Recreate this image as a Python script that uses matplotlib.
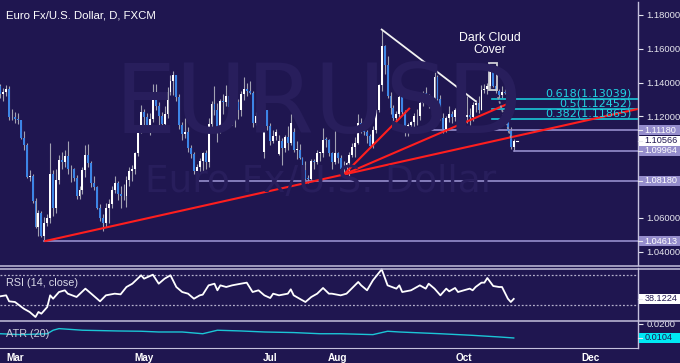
import numpy as np
import pandas as pd
import matplotlib
matplotlib.use('Agg')
import matplotlib.pyplot as plt
from matplotlib.patches import Rectangle
from matplotlib.lines import Line2D
from matplotlib.transforms import blended_transform_factory

plt.rcParams['font.family'] = ['Liberation Sans', 'DejaVu Sans']

# velas diarias EUR/USD, 23-feb a 26-oct 2015
opens = [1.1380, 1.1330, 1.1344, 1.1365, 1.1197,
         1.1195, 1.1184, 1.1176, 1.1075, 1.1028, 1.0842, 1.0850, 1.0699, 1.0548, 1.0631,
         1.0495, 1.0569, 1.0596, 1.0860, 1.0658, 1.0821, 1.0941, 1.0929, 1.0966, 1.0886,
         1.0888, 1.0835, 1.0731, 1.0762, 1.0885, 1.0970, 1.0923, 1.0807, 1.0780, 1.0660,
         1.0600, 1.0567, 1.0660, 1.0684, 1.0765, 1.0806, 1.0739, 1.0729, 1.0727, 1.0824,
         1.0874, 1.0886, 1.0985, 1.1127,
         1.1224, 1.1198, 1.1146, 1.1184, 1.1345, 1.1263, 1.1200, 1.1157, 1.1215, 1.1345,
         1.1409, 1.1446, 1.1317, 1.1150, 1.1094, 1.1110, 1.1011, 1.0975, 1.0874, 1.0899, 1.0936,
         1.0985, 1.0929, 1.1157, 1.1276, 1.1240, 1.1114, 1.1292, 1.1285, 1.1318, 1.1257,
         1.1262, 1.1283, 1.1240, 1.1335, 1.1362, 1.1350, 1.1340, 1.1163, 1.1204, 1.1207,
         1.0990, 1.1235,
         1.1145, 1.1055, 1.1085, 1.0975, 1.1055, 1.1012, 1.1081, 1.1040, 1.1110, 1.1003,
         1.1003, 1.0955, 1.0880, 1.0832, 1.0830, 1.0937, 1.0931, 1.0983, 1.0983, 1.1063,
         1.1060, 1.0984, 1.0931,
         1.0985, 1.0952, 1.0886, 1.0902, 1.0926, 1.0969, 1.1017, 1.1045, 1.1163, 1.1152,
         1.1107, 1.1083, 1.1026, 1.1118, 1.1240, 1.1386, 1.1616, 1.1507, 1.1321, 1.1247, 1.1188,
         1.1213, 1.1316, 1.1226, 1.1117, 1.1150, 1.1168, 1.1201, 1.1202, 1.1281, 1.1338,
         1.1312, 1.1264, 1.1287, 1.1435, 1.1300, 1.1192, 1.1128, 1.1189, 1.1217, 1.1197,
         1.1240, 1.1253,
         1.1175, 1.1196, 1.1211, 1.1195, 1.1265, 1.1277, 1.1240, 1.1355, 1.1362, 1.1380,
         1.1473, 1.1380, 1.1351, 1.1324, 1.1343, 1.1340, 1.1112, 1.1016]
highs = [1.1391, 1.1368, 1.1388, 1.1380, 1.1241,
         1.1227, 1.1220, 1.1181, 1.1114, 1.1045, 1.0880, 1.0860, 1.0718, 1.0645, 1.0640,
         1.0605, 1.0620, 1.1043, 1.0885, 1.0890, 1.0970, 1.0990, 1.1000, 1.1052, 1.0915,
         1.0895, 1.0855, 1.0790, 1.0900, 1.1033, 1.1036, 1.0935, 1.0850, 1.0790, 1.0680,
         1.0625, 1.0690, 1.0710, 1.0790, 1.0850, 1.0818, 1.0790, 1.0800, 1.0848, 1.0900,
         1.0915, 1.0990, 1.1135, 1.1268,
         1.1243, 1.1220, 1.1220, 1.1392, 1.1391, 1.1288, 1.1225, 1.1262, 1.1375, 1.1445,
         1.1467, 1.1447, 1.1330, 1.1168, 1.1190, 1.1140, 1.1030, 1.0990, 1.0920, 1.0955, 1.0990,
         1.1000, 1.1190, 1.1290, 1.1380, 1.1277, 1.1300, 1.1330, 1.1385, 1.1335, 1.1275,
         1.1285, 1.1300, 1.1350, 1.1436, 1.1400, 1.1410, 1.1350, 1.1227, 1.1235, 1.1230,
         1.1278, 1.1240,
         1.1160, 1.1120, 1.1128, 1.1090, 1.1070, 1.1087, 1.1145, 1.1215, 1.1130, 1.1055,
         1.1035, 1.0960, 1.0935, 1.0855, 1.0945, 1.0950, 1.1000, 1.0990, 1.1129, 1.1080,
         1.1065, 1.0990, 1.1114,
         1.0990, 1.0970, 1.0935, 1.0930, 1.0990, 1.1045, 1.1080, 1.1215, 1.1190, 1.1165,
         1.1120, 1.1095, 1.1145, 1.1245, 1.1392, 1.1714, 1.1625, 1.1560, 1.1345, 1.1269, 1.1230,
         1.1330, 1.1332, 1.1240, 1.1160, 1.1175, 1.1220, 1.1245, 1.1295, 1.1350, 1.1375,
         1.1330, 1.1297, 1.1460, 1.1445, 1.1325, 1.1218, 1.1200, 1.1260, 1.1230, 1.1250,
         1.1265, 1.1265,
         1.1215, 1.1318, 1.1250, 1.1285, 1.1295, 1.1320, 1.1385, 1.1390, 1.1400, 1.1480,
         1.1495, 1.1390, 1.1365, 1.1380, 1.1360, 1.1350, 1.1135, 1.1065]
lows = [1.1311, 1.1290, 1.1320, 1.1180, 1.1178,
        1.1160, 1.1155, 1.1065, 1.1000, 1.0838, 1.0820, 1.0690, 1.0540, 1.0494, 1.0488,
        1.0461, 1.0550, 1.0570, 1.0612, 1.0630, 1.0800, 1.0888, 1.0900, 1.0860, 1.0810,
        1.0818, 1.0712, 1.0713, 1.0740, 1.0840, 1.0900, 1.0780, 1.0765, 1.0650, 1.0580,
        1.0520, 1.0548, 1.0570, 1.0660, 1.0745, 1.0705, 1.0660, 1.0705, 1.0664, 1.0790,
        1.0820, 1.0860, 1.0965, 1.1100,
        1.1145, 1.1106, 1.1090, 1.1165, 1.1235, 1.1140, 1.1130, 1.1145, 1.1190, 1.1325,
        1.1325, 1.1290, 1.1125, 1.1062, 1.1070, 1.0990, 1.0955, 1.0860, 1.0819, 1.0875, 1.0870,
        1.0886, 1.0900, 1.1120, 1.1210, 1.1050, 1.1102, 1.1215, 1.1260, 1.1233, 1.1150,
        1.1135, 1.1185, 1.1205, 1.1295, 1.1320, 1.1330, 1.1135, 1.1150, 1.1170, 1.1130,
        1.0955, 1.1120,
        1.1030, 1.1040, 1.1060, 1.0970, 1.0915, 1.0990, 1.1000, 1.1030, 1.0990, 1.0950,
        1.0950, 1.0870, 1.0825, 1.0808, 1.0820, 1.0890, 1.0920, 1.0935, 1.0960, 1.1020,
        1.0965, 1.0886, 1.0920,
        1.0925, 1.0868, 1.0849, 1.0860, 1.0850, 1.0960, 1.0960, 1.1035, 1.1100, 1.1090,
        1.1040, 1.1015, 1.1015, 1.1100, 1.1225, 1.1350, 1.1450, 1.1310, 1.1215, 1.1155, 1.1155,
        1.1190, 1.1212, 1.1086, 1.1085, 1.1120, 1.1130, 1.1150, 1.1180, 1.1260, 1.1300,
        1.1250, 1.1210, 1.1260, 1.1285, 1.1180, 1.1100, 1.1105, 1.1165, 1.1160, 1.1175,
        1.1200, 1.1160,
        1.1150, 1.1160, 1.1150, 1.1170, 1.1225, 1.1220, 1.1235, 1.1340, 1.1330, 1.1365,
        1.1375, 1.1340, 1.1310, 1.1310, 1.1330, 1.1105, 1.1005, 1.0996]
closes = [1.1330, 1.1344, 1.1365, 1.1197, 1.1195,
          1.1184, 1.1176, 1.1075, 1.1028, 1.0842, 1.0850, 1.0699, 1.0548, 1.0631, 1.0495,
          1.0569, 1.0596, 1.0860, 1.0658, 1.0821, 1.0941, 1.0929, 1.0966, 1.0886, 1.0888,
          1.0835, 1.0731, 1.0762, 1.0885, 1.0970, 1.0923, 1.0807, 1.0780, 1.0660, 1.0600,
          1.0567, 1.0660, 1.0684, 1.0765, 1.0806, 1.0739, 1.0729, 1.0727, 1.0824, 1.0874,
          1.0886, 1.0985, 1.1127, 1.1224,
          1.1198, 1.1146, 1.1184, 1.1345, 1.1263, 1.1200, 1.1157, 1.1215, 1.1345, 1.1409,
          1.1446, 1.1317, 1.1150, 1.1094, 1.1110, 1.1011, 1.0975, 1.0874, 1.0899, 1.0936, 1.0985,
          1.0929, 1.1157, 1.1276, 1.1240, 1.1114, 1.1292, 1.1285, 1.1318, 1.1257, 1.1262,
          1.1283, 1.1240, 1.1335, 1.1362, 1.1350, 1.1340, 1.1163, 1.1204, 1.1207, 1.1165,
          1.1235, 1.1145,
          1.1055, 1.1085, 1.1110, 1.1055, 1.1012, 1.1081, 1.1040, 1.1163, 1.1003, 1.1003,
          1.0955, 1.0880, 1.0832, 1.0830, 1.0937, 1.0931, 1.0983, 1.0983, 1.1063, 1.1060,
          1.0984, 1.0931, 1.0985,
          1.0952, 1.0886, 1.0902, 1.0926, 1.0969, 1.1017, 1.1045, 1.1163, 1.1152, 1.1107,
          1.1083, 1.1026, 1.1118, 1.1240, 1.1386, 1.1616, 1.1507, 1.1321, 1.1247, 1.1188, 1.1213,
          1.1316, 1.1226, 1.1117, 1.1150, 1.1168, 1.1201, 1.1202, 1.1281, 1.1338, 1.1312,
          1.1264, 1.1287, 1.1435, 1.1300, 1.1192, 1.1128, 1.1189, 1.1217, 1.1197, 1.1240,
          1.1253, 1.1175,
          1.1196, 1.1211, 1.1195, 1.1265, 1.1277, 1.1240, 1.1355, 1.1362, 1.1380, 1.1473,
          1.1380, 1.1351, 1.1324, 1.1343, 1.1340, 1.1112, 1.1016, 1.10566]

rsi_idx = [0, 2, 3, 5, 8, 10, 12, 13, 14, 16, 17, 18, 20, 22, 23, 26, 29, 31, 34, 36,
           39, 41, 43, 45, 48, 49, 52, 54, 56, 58, 60, 62, 64, 66, 68, 69, 71, 73, 74, 75,
           77, 79, 82, 84, 86, 88, 90, 92, 93, 95, 98, 99, 100, 102, 104, 106, 108, 110, 112, 113,
           116, 118, 122, 123, 125, 127, 130, 132, 135, 136, 137, 140, 143, 145, 146, 148, 150, 152, 153, 155,
           156, 158, 160, 161, 162, 164, 165, 166, 168, 170, 171, 173, 174, 175]
rsi_val = [41.6, 42.9, 34.9, 34.0, 25.1, 20.7, 14.0, 20.7, 18.4, 27.3, 42.9, 38.4, 47.3, 49.6, 45.1, 40.7, 51.8, 45.1, 34.9, 42.9,
           45.1, 44.2, 54.0, 58.4, 69.6, 65.1, 70.4, 58.4, 65.1, 69.6, 54.0, 47.3, 45.1, 38.4, 42.9, 43.8, 56.2, 58.4, 49.6, 56.2,
           54.0, 56.2, 58.4, 59.8, 47.3, 49.6, 42.9, 39.3, 45.1, 42.9, 45.1, 50.9, 42.9, 38.4, 34.0, 40.7, 45.1, 52.7, 45.1, 45.1,
           42.9, 45.1, 60.7, 56.2, 49.6, 62.9, 77.6, 56.2, 51.8, 56.2, 47.3, 49.6, 56.2, 51.8, 58.4, 51.8, 42.9, 51.8, 48.2, 52.7,
           47.3, 49.6, 51.8, 49.6, 54.0, 59.8, 59.8, 66.0, 55.3, 54.0, 54.0, 38.4, 34.0, 38.1224]
atr_idx = [0, 7, 16, 18, 20, 28, 40, 48, 54, 62, 69, 74, 82, 90, 100, 109, 116, 127, 132, 136, 150, 161, 170, 175]
atr_val = [0.0133, 0.0127, 0.0133, 0.0157, 0.0168, 0.0157, 0.0152, 0.0150, 0.0145, 0.0145, 0.0133, 0.0157,
           0.0152, 0.0145, 0.0141, 0.0133, 0.0133, 0.0127, 0.0150, 0.0145, 0.0133, 0.0122, 0.0111, 0.0104]

# niveles horizontales (precio, vela donde empiezan)
niveles = [1.11180, 1.09964, 1.08180, 1.04613]
niveles_desde = [139, 175, 67, 15]
fib_nombres = ['0.618', '0.5', '0.382']
fib_valores = [1.13039, 1.12452, 1.11865]
# lineas de tendencia (vela, precio) -> (vela, precio)
rojas = [((15, 1.04613), (217.3, 1.1244)),
         ((117, 1.0855), (139.6, 1.1250)),
         ((117, 1.0855), (174.4, 1.1285))]
blanca = ((130, 1.1714), (162, 1.1290))
punteada = ((169.6, 1.1315), (174.1, 1.1072))
ticks_precio = [1.04, 1.06, 1.12, 1.14, 1.16, 1.18]

fondo = '#1f1650'
marca = '#281e5c'
lila = '#958dcc'
azul = '#3d85e6'
cian = '#1bc6d6'
sep = '#c4c0dc'

o = np.array(opens); h = np.array(highs); l = np.array(lows); c = np.array(closes)
x = np.arange(len(c))
dias = pd.bdate_range('2015-02-23', '2015-12-31')

W, H = 680, 363
fig = plt.figure(figsize=(6.8, 3.63), dpi=100, facecolor=fondo)
ax = fig.add_axes([0, 1 - 265 / H, 638 / W, 263 / H])
ax_rsi = fig.add_axes([0, 1 - 320 / H, 638 / W, 52 / H])
ax_atr = fig.add_axes([0, 1 - 348 / H, 638 / W, 28 / H])

for a in (ax, ax_rsi, ax_atr):
    a.set_facecolor(fondo)
    a.set_xlim(-0.1, 217.35)
    for s in ('left', 'top', 'bottom'):
        a.spines[s].set_visible(False)
    a.spines['right'].set_color(sep)
    a.spines['right'].set_linewidth(1)
    a.set_xticks([])
ax_atr.spines['bottom'].set_visible(True)
ax_atr.spines['bottom'].set_color(sep)

ax.set_ylim(1.03207, 1.18769)
ax_rsi.set_ylim(10, 79.33)
ax_atr.set_ylim(0.00354, 0.0227)

# marcas de agua
fig.text(318 / W, 1 - 106 / H, 'EURUSD', color=marca, fontsize=70, ha='center', va='center',
         family='DejaVu Sans', zorder=0)
fig.text(321 / W, 1 - 182 / H, 'Euro Fx/U.S. Dollar', color=marca, fontsize=27, ha='center', va='center',
         family='DejaVu Sans', zorder=0)

# velas
sube = c >= o
cuerpo = np.maximum(np.abs(c - o), 0.0004)
ax.vlines(x, l, h, color='#a2a2b2', lw=0.8, zorder=2)
ax.bar(x[sube], cuerpo[sube], bottom=o[sube], width=0.65, color='white', lw=0, zorder=3)
ax.bar(x[~sube], cuerpo[~sube], bottom=c[~sube], width=0.65, color=azul, lw=0, zorder=3)
ax.plot([x[-1] + 0.6, x[-1] + 1.5], [c[-1], c[-1]], color='white', lw=0.8, zorder=3)

# niveles
for v, d in zip(niveles, niveles_desde):
    ax.plot([d, 217.35], [v, v], color=lila, lw=1.2, zorder=2.5)
for nom, v in zip(fib_nombres, fib_valores):
    ax.plot([167.5, 217.35], [v, v], color=cian, lw=1.2, zorder=4)
    ax.text(215.2, v + 0.0003, f'{nom}({v:.5f})', color='#22d4e4', fontsize=8, ha='right', va='bottom',
            family='DejaVu Sans', zorder=5)

for (x0, y0), (x1, y1) in rojas:
    ax.plot([x0, x1], [y0, y1], color='#ff1e1e', lw=1.5, zorder=4, solid_capstyle='butt')
ax.plot([blanca[0][0], blanca[1][0]], [blanca[0][1], blanca[1][1]], color='#f2f2f2', lw=1.3, zorder=4)
ax.plot([punteada[0][0], punteada[1][0]], [punteada[0][1], punteada[1][1]], color='#9a9aaa', lw=1.2,
        ls=(0, (1.5, 1.2)), zorder=4)

# Dark Cloud Cover
ax.add_patch(Rectangle((166.55, 1.1356), 2.9, 0.0157, fill=False, edgecolor='#cfcfd4', lw=1.3, zorder=5))
ax.text(166.9, 1.1628, 'Dark Cloud\nCover', color='white', fontsize=8.8, ha='center', va='center',
        linespacing=1.05, zorder=5)

# textos de panel
fig.text(6 / W, 1 - 15 / H, 'Euro Fx/U.S. Dollar, D, FXCM', color='white', fontsize=8.2, va='center')

# eje de precios
ax.yaxis.tick_right()
ax.set_yticks(ticks_precio)
ax.set_yticklabels([f'{t:.5f}' for t in ticks_precio])
ax.tick_params(axis='y', length=3.5, width=0.8, colors='#e6e6ee', labelsize=6.8, pad=2.5)


def caja(eje, valor, texto, color_fondo, color_txt, alto_eje_px):
    tr = blended_transform_factory(eje.transAxes, eje.transData)
    y0, y1 = eje.get_ylim()
    alto = 10 * (y1 - y0) / alto_eje_px
    eje.add_patch(Rectangle((1.0016, valor - alto / 2), 0.0643, alto, transform=tr, facecolor=color_fondo,
                            edgecolor='none', clip_on=False, zorder=6))
    eje.plot([1.0, 1.0063], [valor, valor], transform=tr, color='#e6e6ee', lw=0.8, clip_on=False, zorder=7)
    eje.text(1.0105, valor, texto, transform=tr, ha='left', va='center', fontsize=6.6, color=color_txt,
             zorder=7, clip_on=False)


for v in niveles:
    caja(ax, v, f'{v:.5f}', lila, 'white', 263)
caja(ax, closes[-1], f'{closes[-1]:.5f}', 'white', fondo, 263)

# RSI
ax_rsi.axhline(70, color='#b4b0cc', lw=0.9, ls=(0, (1.5, 1.5)))
ax_rsi.axhline(30, color='#b4b0cc', lw=0.9, ls=(0, (1.5, 1.5)))
ax_rsi.plot(rsi_idx, rsi_val, color='white', lw=1.3, zorder=3)
ax_rsi.set_yticks([])
ax_rsi.text(6 / 638, 1 - 15 / 52, 'RSI (14, close)', transform=ax_rsi.transAxes, color='#d8d8e6',
            fontsize=7.8, va='center')
caja(ax_rsi, rsi_val[-1], f'{rsi_val[-1]:.4f}', 'white', fondo, 52)

# ATR
ax_atr.plot(atr_idx, atr_val, color=cian, lw=1.0, zorder=3)
ax_atr.yaxis.tick_right()
ax_atr.set_yticks([0.02])
ax_atr.set_yticklabels(['0.0200'])
ax_atr.tick_params(axis='y', length=3.5, width=0.8, colors='#e6e6ee', labelsize=6.8, pad=2.5)
ax_atr.text(6 / 638, 0.5, 'ATR (20)', transform=ax_atr.transAxes, color='#c8c8d8', fontsize=7.8, va='center')
caja(ax_atr, atr_val[-1], f'{atr_val[-1]:.4f}', '#00e8f4', fondo, 28)

# meses
pos_mes, txt_mes = [], []
for m, nombre in [(3, 'Mar'), (5, 'May'), (7, 'Jul'), (8, 'Aug'), (10, 'Oct'), (12, 'Dec')]:
    pos_mes.append(int(np.argmax(dias.month == m)))
    txt_mes.append(nombre)
ax_atr.set_xticks(pos_mes)
ax_atr.set_xticklabels(txt_mes, fontweight='bold')
ax_atr.tick_params(axis='x', length=0, pad=3.5, labelsize=7.2, colors='white')

# separadores de panel a todo lo ancho
for yy in (265.5, 268.5, 320.5):
    fig.add_artist(Line2D([0, 1], [1 - yy / H, 1 - yy / H], color=sep, lw=1.1, transform=fig.transFigure))

fig.savefig('out.png', dpi=100, facecolor=fondo)
